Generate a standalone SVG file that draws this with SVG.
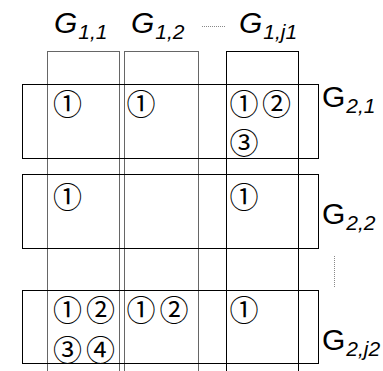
<svg xmlns="http://www.w3.org/2000/svg" width="383" height="371" viewBox="0 0 383 371">
<style>
.col{fill:none;stroke:#666;stroke-width:1}
.row{fill:none;stroke:#000;stroke-width:1}
.hdr{font-family:"Liberation Sans",Arial,sans-serif;font-size:30px;font-style:italic;fill:#000}
.lbl{font-family:"Liberation Sans",Arial,sans-serif;font-size:30px;fill:#000}
.sub{font-size:21px;font-style:italic}
.c{font-family:"Noto Sans CJK JP","DejaVu Sans",sans-serif;font-size:29px;text-anchor:middle;dominant-baseline:central;fill:#000}
.dot{stroke:#888;stroke-width:1;stroke-dasharray:1,1;fill:none}
</style>
<rect width="383" height="371" fill="#fff"/>
<g id="columns">
<g id="col1"><rect class="col" x="47.5" y="51.5" width="72" height="330"/></g>
<g id="col2"><rect class="col" x="124.5" y="51.5" width="74" height="330"/></g>
<g id="col3"><rect class="col" x="226.5" y="51.5" width="72" height="330" style="stroke:#000"/></g>
</g>
<g id="rows">
<g id="row1"><rect class="row" x="22.5" y="84.5" width="296" height="74"/></g>
<g id="row2"><rect class="row" x="22.5" y="174.5" width="296" height="74"/></g>
<g id="row3"><rect class="row" x="22.5" y="290.5" width="296" height="73"/></g>
</g>
<g id="headers">
<text class="hdr" x="54" y="33">G<tspan class="sub" dx="1" dy="6">1,1</tspan></text>
<text class="hdr" x="131" y="33">G<tspan class="sub" dx="1" dy="6">1,2</tspan></text>
<text class="hdr" x="239" y="33">G<tspan class="sub" dx="1" dy="6">1,j1</tspan></text>
<text class="lbl" x="322" y="107">G<tspan class="sub" dx="1" dy="6">2,1</tspan></text>
<text class="lbl" x="322" y="224">G<tspan class="sub" dx="1" dy="6">2,2</tspan></text>
<text class="lbl" x="322" y="350">G<tspan class="sub" dx="1" dy="6">2,j2</tspan></text>
</g>
<g id="connectors">
<line class="dot" x1="202" y1="26.5" x2="226" y2="26.5"/>
<line class="dot" x1="334.5" y1="256" x2="334.5" y2="288"/>
</g>
<g id="marks">
<text class="c" x="67.5" y="102">①</text>
<text class="c" x="141" y="102">①</text>
<text class="c" x="244" y="102">①</text>
<text class="c" x="276.5" y="102">②</text>
<text class="c" x="244" y="141">③</text>
<text class="c" x="67.5" y="195">①</text>
<text class="c" x="244" y="195">①</text>
<text class="c" x="67.5" y="308">①</text>
<text class="c" x="100.5" y="308">②</text>
<text class="c" x="67.5" y="348">③</text>
<text class="c" x="100.5" y="348">④</text>
<text class="c" x="141" y="308">①</text>
<text class="c" x="174" y="308">②</text>
<text class="c" x="244" y="308">①</text>
</g>
</svg>
